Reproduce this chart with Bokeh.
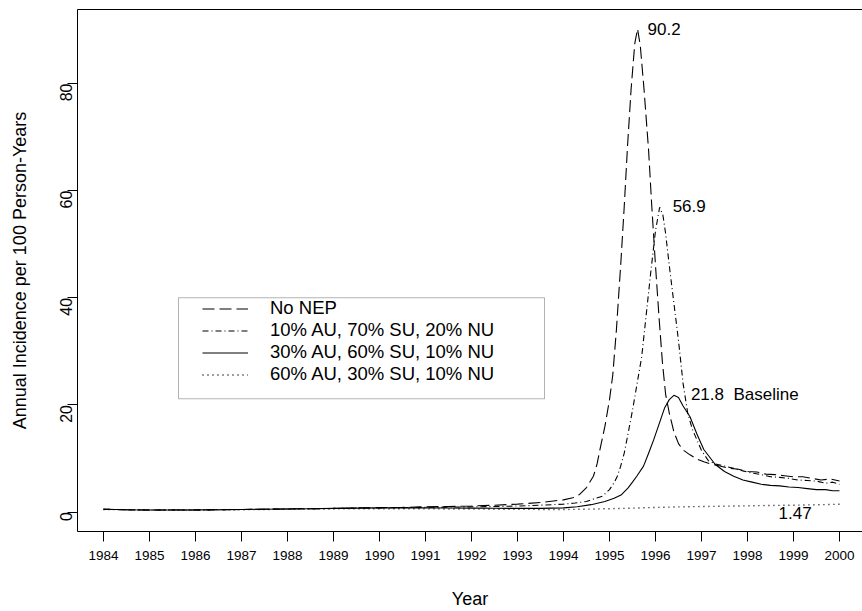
from bokeh.plotting import figure
from bokeh.models import (FixedTicker, LinearAxis, Legend, LegendItem, Label,
                          BoxAnnotation)
from bokeh.embed import file_html
from bokeh.resources import INLINE
import math

FONT = "Liberation Sans"

# ---------------- data ----------------
year_ticks = list(range(1984, 2001))
y_ticks = [0, 20, 40, 60, 80]

no_nep_year = [1984.0, 1984.5, 1985.0, 1985.5, 1986.0, 1986.5, 1987.0, 1987.5, 1988.0, 1988.5,
               1989.0, 1989.5, 1990.0, 1990.5, 1991.0, 1991.5, 1992.0, 1992.5, 1993.0, 1993.5,
               1994.0, 1994.2, 1994.35, 1994.5, 1994.65, 1994.73, 1994.8, 1994.9, 1995.0, 1995.07,
               1995.15, 1995.25, 1995.32, 1995.39, 1995.47, 1995.55, 1995.61, 1995.67, 1995.75, 1995.85,
               1995.92, 1996.0, 1996.08, 1996.15, 1996.22, 1996.3, 1996.4, 1996.5, 1996.6, 1996.75,
               1996.9, 1997.05, 1997.2, 1997.4, 1997.6, 1997.8, 1998.0, 1998.2, 1998.4, 1998.6,
               1998.8, 1999.0, 1999.2, 1999.4, 1999.6, 1999.8, 2000.0]
no_nep_inc = [0.55, 0.45, 0.4, 0.42, 0.4, 0.45, 0.5, 0.55, 0.6, 0.65,
              0.7, 0.8, 0.85, 0.9, 1.0, 1.05, 1.15, 1.3, 1.5, 1.8,
              2.3, 2.7, 3.3, 4.6, 6.7, 9.0, 12.0, 16.0, 21.0, 25.5,
              34.0, 47.0, 57.0, 68.0, 79.0, 87.5, 90.2, 87.0, 79.0, 67.5,
              57.0, 46.0, 36.0, 28.0, 22.0, 18.5, 15.0, 12.8, 11.6, 10.7,
              9.9, 9.4, 9.0, 8.6, 8.2, 8.0, 7.6, 7.5, 7.1, 7.0,
              6.8, 6.6, 6.6, 6.3, 6.0, 6.2, 5.8]

au10_year = [1984.0, 1984.5, 1985.0, 1985.5, 1986.0, 1986.5, 1987.0, 1987.5, 1988.0, 1988.5,
             1989.0, 1989.5, 1990.0, 1990.5, 1991.0, 1991.5, 1992.0, 1992.5, 1993.0, 1993.5,
             1994.0, 1994.25, 1994.5, 1994.7, 1994.85, 1995.0, 1995.1, 1995.17, 1995.24, 1995.32,
             1995.4, 1995.5, 1995.6, 1995.7, 1995.8, 1995.9, 1996.0, 1996.09, 1996.16, 1996.22,
             1996.3, 1996.4, 1996.5, 1996.6, 1996.7, 1996.8, 1996.9, 1997.0, 1997.15, 1997.3,
             1997.5, 1997.7, 1997.9, 1998.1, 1998.3, 1998.5, 1998.7, 1998.9, 1999.1, 1999.3,
             1999.5, 1999.7, 1999.85, 2000.0]
au10_inc = [0.55, 0.45, 0.4, 0.4, 0.42, 0.45, 0.5, 0.55, 0.6, 0.65,
            0.7, 0.75, 0.8, 0.85, 0.9, 0.95, 1.0, 1.05, 1.15, 1.3,
            1.5, 1.7, 2.0, 2.6, 3.0, 4.2, 5.5, 6.7, 8.5, 11.0,
            14.5, 19.0, 24.0, 29.0, 37.0, 45.0, 52.5, 56.9, 55.5, 52.0,
            46.0, 39.0, 32.0, 24.0, 18.5, 15.5, 13.5, 11.5, 9.6, 9.0,
            8.6, 8.2, 7.7, 7.3, 7.0, 6.6, 6.5, 6.3, 6.0, 5.9,
            5.8, 5.4, 5.6, 5.2]

au30_year = [1984.0, 1984.5, 1985.0, 1985.5, 1986.0, 1986.5, 1987.0, 1987.5, 1988.0, 1988.5,
             1989.0, 1989.5, 1990.0, 1990.5, 1991.0, 1991.5, 1992.0, 1992.5, 1993.0, 1993.5,
             1994.0, 1994.3, 1994.6, 1994.9, 1995.1, 1995.25, 1995.4, 1995.5, 1995.6, 1995.74,
             1995.85, 1995.96, 1996.1, 1996.2, 1996.3, 1996.4, 1996.5, 1996.6, 1996.75, 1996.9,
             1997.05, 1997.3, 1997.5, 1997.7, 1997.9, 1998.1, 1998.3, 1998.5, 1998.7, 1998.9,
             1999.1, 1999.3, 1999.5, 1999.7, 1999.85, 2000.0]
au30_inc = [0.55, 0.45, 0.4, 0.4, 0.42, 0.45, 0.5, 0.55, 0.6, 0.65,
            0.7, 0.75, 0.8, 0.8, 0.8, 0.78, 0.75, 0.72, 0.7, 0.7,
            0.8, 1.0, 1.4, 2.0, 2.6, 3.2, 4.5, 5.6, 6.8, 8.6,
            11.0, 13.5, 17.0, 19.5, 21.0, 21.8, 21.4, 19.8, 17.8, 14.6,
            11.7, 8.9, 7.6, 6.7, 6.0, 5.6, 5.2, 5.0, 4.9, 4.7,
            4.6, 4.4, 4.2, 4.2, 4.0, 4.0]

au60_year = [1984.0, 1985.0, 1986.0, 1987.0, 1988.0, 1989.0, 1990.0, 1991.0, 1992.0, 1993.0,
             1994.0, 1994.5, 1995.0, 1995.5, 1996.0, 1996.5, 1997.0, 1997.5, 1998.0, 1998.5,
             1999.0, 1999.5, 2000.0]
au60_inc = [0.5, 0.4, 0.4, 0.45, 0.55, 0.6, 0.65, 0.62, 0.58, 0.52,
            0.5, 0.55, 0.65, 0.75, 0.88, 0.98, 1.05, 1.12, 1.18, 1.25,
            1.3, 1.38, 1.47]

series_labels = ["No NEP",
                 "10% AU, 70% SU, 20% NU",
                 "30% AU, 60% SU, 10% NU",
                 "60% AU, 30% SU, 10% NU"]

# ---------------- figure ----------------
W, H = 862, 611
BL, BT, BB = 77, 9, 75
X0, X1 = 1983.435, 2000.5
Y0, Y1 = -3.608, 93.808
p = figure(width=W, height=H, x_range=(X0, X1), y_range=(Y0, Y1),
           output_backend="svg", toolbar_location=None,
           min_border_left=BL, min_border_right=0, min_border_top=BT, min_border_bottom=BB)
p.outline_line_color = None
p.grid.visible = False
p.background_fill_color = "white"
p.border_fill_color = "white"

xa = p.xaxis[0]
xa.ticker = FixedTicker(ticks=year_ticks)
xa.axis_label = "Year"
xa.major_tick_out = 10
xa.major_tick_in = 0
xa.minor_tick_out = 0
xa.minor_tick_in = 0
xa.major_label_standoff = 9
xa.axis_label_standoff = 26
xa.major_label_text_font = FONT
xa.major_label_text_font_size = "13.5px"
xa.axis_label_text_font = FONT
xa.axis_label_text_font_size = "18px"
xa.axis_label_text_font_style = "normal"

ya = p.yaxis[0]
ya.ticker = FixedTicker(ticks=y_ticks)
ya.axis_label = "Annual Incidence per 100 Person-Years"
ya.major_tick_out = 10
ya.major_tick_in = 0
ya.minor_tick_out = 0
ya.minor_tick_in = 0
ya.major_label_orientation = math.pi / 2
ya.major_label_standoff = 1
ya.axis_label_standoff = 22
ya.major_label_text_font = FONT
ya.major_label_text_font_size = "16px"
ya.axis_label_text_font = FONT
ya.axis_label_text_font_size = "18px"
ya.axis_label_text_font_style = "normal"

for ax in (xa, ya):
    ax.axis_line_color = "black"
    ax.major_tick_line_color = "black"
    ax.major_label_text_color = "black"
    ax.axis_label_text_color = "black"

top = LinearAxis(ticker=FixedTicker(ticks=[]), major_label_text_font_size="0px",
                 major_tick_out=0, major_tick_in=0, minor_tick_out=0, minor_tick_in=0,
                 major_label_standoff=0, axis_line_color="black")
p.add_layout(top, "above")

LW = 1.1
r1 = p.line(no_nep_year, no_nep_inc, line_color="black", line_width=LW, line_dash="12 5")
r2 = p.line(au10_year, au10_inc, line_color="black", line_width=LW, line_dash="6 3 1 3")
r3 = p.line(au30_year, au30_inc, line_color="black", line_width=LW)
r4 = p.line(au60_year, au60_inc, line_color="black", line_width=1.4, line_dash="1 4")

# legend box (pixel -> data)
fw, fh = W - BL, H - BT - BB
def px2x(px):
    return X0 + (px - BL) / fw * (X1 - X0)
def py2y(py):
    return Y1 - (py - BT) / fh * (Y1 - Y0)
box = BoxAnnotation(left=px2x(178), right=px2x(544), top=py2y(300), bottom=py2y(402),
                    fill_alpha=0, line_color="black", line_width=1)
p.add_layout(box)

legend = Legend(items=[LegendItem(label=series_labels[i], renderers=[r])
                       for i, r in enumerate([r1, r2, r3, r4])],
                location=(125, 536 - 390), padding=0, margin=0, spacing=0,
                label_height=19, glyph_height=19, glyph_width=46, label_standoff=22,
                border_line_color=None, background_fill_alpha=0,
                label_text_font=FONT, label_text_font_size="18.5px", label_text_color="black")
p.add_layout(legend)

# peak annotations anchored to the data
def peak(xs, ys):
    i = max(range(len(ys)), key=lambda k: ys[k])
    return xs[i], ys[i]

ann_style = dict(text_font=FONT, text_font_size="17px", text_color="black",
                 text_baseline="middle", text_align="left")
px_, py_ = peak(no_nep_year, no_nep_inc)
p.add_layout(Label(x=px_, y=py_, text=f"{py_:.1f}", x_offset=10, y_offset=0, **ann_style))
px_, py_ = peak(au10_year, au10_inc)
p.add_layout(Label(x=px_, y=py_, text=f"{py_:.1f}", x_offset=13, y_offset=1, **ann_style))
px_, py_ = peak(au30_year, au30_inc)
p.add_layout(Label(x=px_, y=py_, text=f"{py_:.1f}\u00a0\u00a0Baseline", x_offset=17, y_offset=1, **ann_style))
p.add_layout(Label(x=au60_year[-1], y=au60_inc[-1], text=f"{au60_inc[-1]:.2f}",
                   x_offset=-61, y_offset=-9, **ann_style))

open("out.html", "w").write(file_html(p, INLINE))
